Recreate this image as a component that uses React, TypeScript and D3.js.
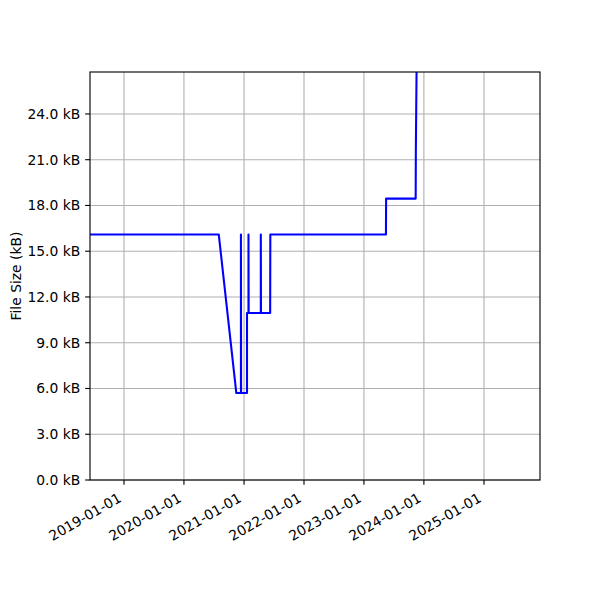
import React from "react";
import * as d3 from "d3";

const dates: string[] = [
  "2018-06-08", "2020-07-31", "2020-11-15", "2020-12-13", "2020-12-13",
  "2020-12-14", "2021-01-19", "2021-01-19", "2021-01-28", "2021-01-28",
  "2021-01-29", "2021-04-13", "2021-04-13", "2021-04-14", "2021-06-09",
  "2021-06-10", "2023-05-15", "2023-05-16", "2023-11-12", "2023-11-13",
  "2023-11-18",
];
const sizesKB: number[] = [
  16.1, 16.1, 5.7, 5.7, 16.1,
  5.7, 5.7, 10.95, 10.95, 16.1,
  10.95, 10.95, 16.1, 10.95, 10.95,
  16.1, 16.1, 18.45, 18.45, 21.6,
  27.5,
];
const xTickLabels: string[] = [
  "2019-01-01", "2020-01-01", "2021-01-01", "2022-01-01",
  "2023-01-01", "2024-01-01", "2025-01-01",
];
const yTicks: number[] = [0, 3, 6, 9, 12, 15, 18, 21, 24];
const xDomain: string[] = ["2018-06-08", "2025-12-08"];
const yDomain: number[] = [0, 26.75];

const W = 600;
const H = 600;
const L = 90;
const R = 540;
const T = 72;
const B = 480;
const FS = 13.89;
const TICK = 4.86;
const PAD = 4.86;
const FONT = "DejaVu Sans, sans-serif";

export default function App() {
  const parse = (s: string) => new Date(s + "T00:00:00Z");
  const x = d3.scaleUtc().domain(xDomain.map(parse)).range([L, R]);
  const y = d3.scaleLinear().domain(yDomain).range([B, T]);
  const data = dates.map((d, i) => ({ d: parse(d), v: sizesKB[i] }));
  const line = d3
    .line<{ d: Date; v: number }>()
    .x((p) => x(p.d))
    .y((p) => y(p.v));

  const sin30 = 0.5;
  const cos30 = Math.sqrt(3) / 2;

  return (
    <svg
      width={W}
      height={H}
      style={{ position: "absolute", left: 0, top: 0, background: "#fff" }}
      fontFamily={FONT}
    >
      <rect x={0} y={0} width={W} height={H} fill="#fff" />
      <defs>
        <clipPath id="plotclip">
          <rect x={L} y={T} width={R - L} height={B - T} />
        </clipPath>
      </defs>
      {xTickLabels.map((t) => {
        const xx = x(parse(t));
        return (
          <line key={"gx" + t} x1={xx} x2={xx} y1={T} y2={B} stroke="#b0b0b0" strokeWidth={1.11} />
        );
      })}
      {yTicks.map((t) => {
        const yy = y(t);
        return (
          <line key={"gy" + t} x1={L} x2={R} y1={yy} y2={yy} stroke="#b0b0b0" strokeWidth={1.11} />
        );
      })}
      <path
        d={line(data) || ""}
        fill="none"
        stroke="#0000ff"
        strokeWidth={2.08}
        strokeLinejoin="round"
        strokeLinecap="square"
        clipPath="url(#plotclip)"
      />
      <rect x={L} y={T} width={R - L} height={B - T} fill="none" stroke="#000" strokeWidth={1.11} />
      {yTicks.map((t) => {
        const yy = y(t);
        return (
          <g key={"ty" + t}>
            <line x1={L - TICK} x2={L} y1={yy} y2={yy} stroke="#000" strokeWidth={1.11} />
            <text
              x={L - TICK - PAD}
              y={yy}
              dy="0.35em"
              textAnchor="end"
              fontSize={FS}
              fill="#000"
            >
              {t.toFixed(1) + " kB"}
            </text>
          </g>
        );
      })}
      {xTickLabels.map((t) => {
        const xx = x(parse(t));
        const top = B + TICK + PAD;
        const ax = xx - 0.236 * FS * sin30;
        const ay = top + 0.93 * FS * cos30;
        return (
          <g key={"tx" + t}>
            <line x1={xx} x2={xx} y1={B} y2={B + TICK} stroke="#000" strokeWidth={1.11} />
            <text
              x={ax}
              y={ay}
              textAnchor="end"
              fontSize={FS}
              fill="#000"
              transform={`rotate(-30, ${ax}, ${ay})`}
            >
              {t}
            </text>
          </g>
        );
      })}
      <text
        x={21}
        y={(T + B) / 2}
        textAnchor="middle"
        fontSize={FS}
        fill="#000"
        transform={`rotate(-90, 21, ${(T + B) / 2})`}
      >
        File Size (kB)
      </text>
    </svg>
  );
}
